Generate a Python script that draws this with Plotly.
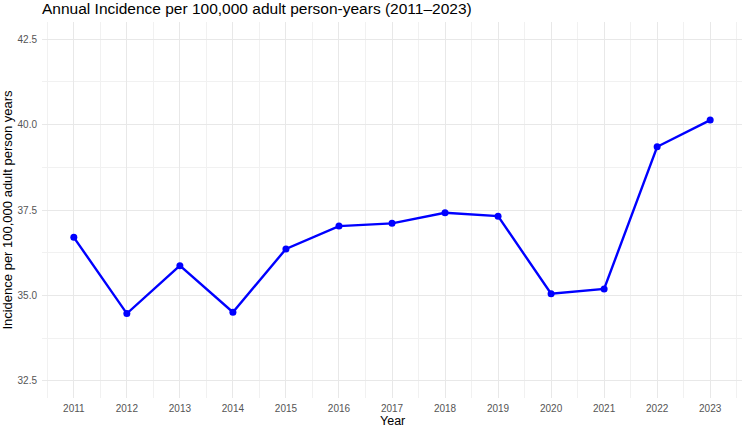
import plotly.graph_objects as go

years = [2011, 2012, 2013, 2014, 2015, 2016, 2017, 2018, 2019, 2020, 2021, 2022, 2023]
incidence = [36.70, 34.47, 35.87, 34.51, 36.36, 37.03, 37.11, 37.42, 37.32, 35.05, 35.19, 39.35, 40.13]
y_ticks = [32.5, 35.0, 37.5, 40.0, 42.5]
y_tick_labels = ["32.5", "35.0", "37.5", "40.0", "42.5"]

title_text = "Annual Incidence per 100,000 adult person-years (2011\u20132023)"
x_title = "Year"
y_title = "Incidence per 100,000 adult person years"

FONT = "Liberation Sans, Arial, Helvetica, sans-serif"
GRID = "#E8E8E8"
MINOR = "#F1F1F1"

fig = go.Figure()
fig.add_trace(go.Scatter(
    x=years, y=incidence, mode="lines+markers",
    line=dict(color="#0000FF", width=2.4),
    marker=dict(color="#0000FF", size=7),
    showlegend=False, hoverinfo="x+y",
))

fig.update_layout(
    width=744, height=430,
    margin=dict(l=42, r=2, t=22, b=32),
    paper_bgcolor="white", plot_bgcolor="white",
    font=dict(family=FONT, color="#000000"),
    title=dict(text=title_text, x=42/744, xref="container", xanchor="left",
               y=1 - 9/430, yref="container", yanchor="middle",
               font=dict(size=15.5, color="#000000", family=FONT)),
)

fig.update_xaxes(
    range=[2010.4, 2023.6],
    tickmode="array", tickvals=years, ticktext=[str(y) for y in years],
    tickfont=dict(size=10, color="#555555"),
    showgrid=True, gridcolor=GRID, gridwidth=1.2,
    zeroline=False, showline=False, ticks="",
    minor=dict(tickmode="linear", tick0=2010.5, dtick=1, showgrid=True,
               gridcolor=MINOR, gridwidth=0.8, ticks=""),
    ticklabelstandoff=3,
)
fig.update_yaxes(
    range=[32.0, 43.0],
    tickmode="array", tickvals=y_ticks, ticktext=y_tick_labels,
    tickfont=dict(size=10, color="#555555"),
    showgrid=True, gridcolor=GRID, gridwidth=1.2,
    zeroline=False, showline=False, ticks="",
    minor=dict(tickmode="linear", tick0=33.75, dtick=2.5, showgrid=True,
               gridcolor=MINOR, gridwidth=0.8, ticks=""),
    title=dict(text=y_title, font=dict(size=13, color="#000000"), standoff=3),
    ticklabelstandoff=4,
)

fig.add_annotation(
    text=x_title, xref="paper", x=0.5, yref="paper", y=-32/376,
    xanchor="center", yanchor="bottom", showarrow=False,
    font=dict(size=12.5, color="#000000", family=FONT),
)

fig.write_html("out.html")
